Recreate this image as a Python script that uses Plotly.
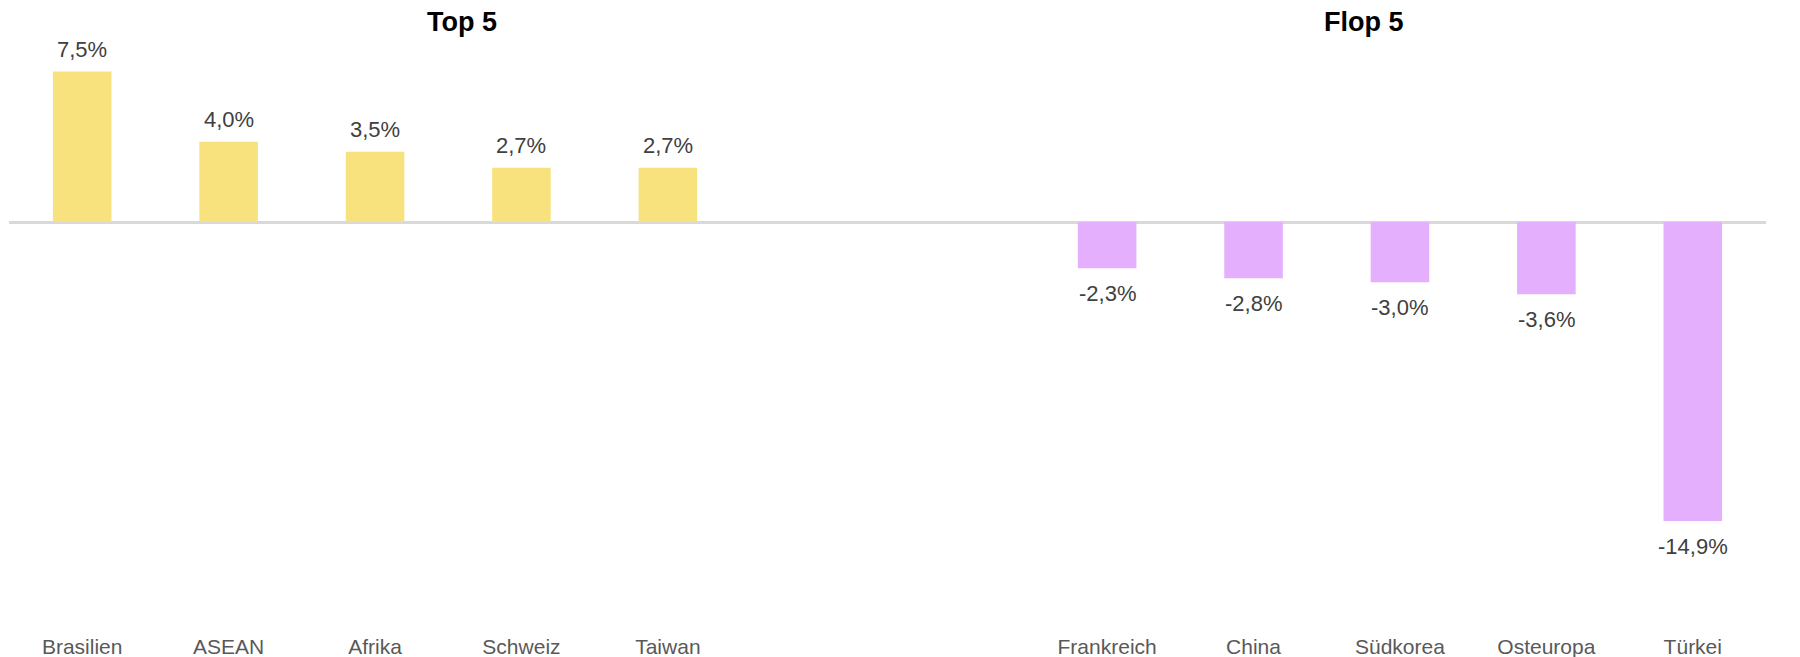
import plotly.graph_objects as go

FONT = "Liberation Sans, Arial, sans-serif"
YELLOW = "#F8E27E"
PURPLE = "#E4AFFD"
LABEL = "#404040"
TICK = "#595959"

top_names = ["Brasilien", "ASEAN", "Afrika", "Schweiz", "Taiwan"]
top_values = [7.5, 4.0, 3.5, 2.7, 2.7]
gap_slots = [" ", "  "]
flop_names = ["Frankreich", "China", "Südkorea", "Osteuropa", "Türkei"]
flop_values = [-2.3, -2.8, -3.0, -3.6, -14.9]
panel_titles = ["Top 5", "Flop 5"]

categories = top_names + gap_slots + flop_names


def _fmt(v: float) -> str:
    return f"{v:.1f}".replace(".", ",") + "%"


fig = go.Figure()
fig.add_trace(go.Bar(
    x=top_names, y=top_values, marker=dict(color=YELLOW, line=dict(width=0)),
    width=0.4, hoverinfo="skip",
))
fig.add_trace(go.Bar(
    x=flop_names, y=flop_values, marker=dict(color=PURPLE, line=dict(width=0)),
    width=0.4, hoverinfo="skip",
))

annotations = []
for name, v in zip(top_names + flop_names, top_values + flop_values):
    annotations.append(dict(
        x=name, y=v, xref="x", yref="y", text=_fmt(v), showarrow=False,
        yanchor="middle", yshift=22 if v > 0 else -25,
        font=dict(family=FONT, size=22, color=LABEL),
    ))
for title, xpos in zip(panel_titles, [0.2577, 0.771]):
    annotations.append(dict(
        x=xpos, y=1, xref="paper", yref="paper", text=f"<b>{title}</b>",
        showarrow=False, yanchor="middle", xanchor="center", yshift=6.5,
        borderpad=0,
        font=dict(family=FONT, size=27, color="#000000"),
    ))

fig.update_layout(
    width=1800, height=657,
    paper_bgcolor="white", plot_bgcolor="white",
    margin=dict(l=1, r=42, t=20, b=33),
    showlegend=False,
    bargap=0.6,
    font=dict(family=FONT, color=TICK),
    xaxis=dict(
        type="category", categoryorder="array", categoryarray=categories,
        range=[-0.5, len(categories) - 0.5], automargin=False,
        showgrid=False, showline=False, zeroline=False, ticks="",
        tickfont=dict(family=FONT, size=21, color=TICK),
    ),
    yaxis=dict(
        range=[-20.43, 9.67], showgrid=False, showticklabels=False,
        automargin=False,
        zeroline=True, zerolinecolor="#D9D9D9", zerolinewidth=2.5,
        showline=False, ticks="",
    ),
    annotations=annotations,
)

fig.write_html("out.html")
